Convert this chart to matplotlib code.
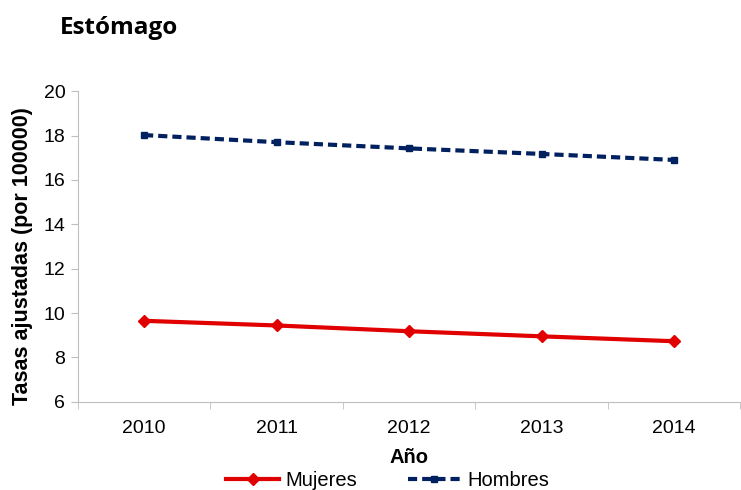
import numpy as np
import matplotlib.pyplot as plt

plt.rcParams['font.family'] = ['Liberation Sans', 'DejaVu Sans']

years = ['2010', '2011', '2012', '2013', '2014']
mujeres = [9.65, 9.44, 9.18, 8.95, 8.73]
hombres = [18.02, 17.70, 17.42, 17.17, 16.90]

x = np.arange(len(years))

fig = plt.figure(figsize=(7.41, 4.90), dpi=100)
ax = fig.add_axes([0.105, 0.180, 0.894, 0.634])

ax.plot(x, mujeres, color='#E00000', linewidth=3, marker='D', markersize=6,
        label='Mujeres')
ax.plot(x, hombres, color='#002060', linewidth=3, linestyle=(0, (2.2, 1.2)),
        marker='s', markersize=5, label='Hombres')

ax.set_xlim(-0.5, len(years) - 0.5)
ax.set_ylim(6, 20)
ax.set_yticks(range(6, 21, 2))
ax.set_xticks(x)
ax.set_xticklabels(years)
ax.set_xticks(np.arange(-0.5, len(years), 1), minor=True)
ax.tick_params(axis='x', which='major', length=0, pad=13, labelsize=14)
ax.tick_params(axis='x', which='minor', length=5, color='#BFBFBF')
ax.tick_params(axis='y', length=5, color='#BFBFBF', labelsize=14, pad=4)

for s in ['top', 'right']:
    ax.spines[s].set_visible(False)
for s in ['left', 'bottom']:
    ax.spines[s].set_color('#BFBFBF')

ax.set_xlabel('Año', fontsize=14.5, fontweight='bold', labelpad=8)
ax.set_ylabel('Tasas ajustadas (por 100000)', fontsize=15.5, fontweight='bold')
ax.yaxis.set_label_coords(-0.068, 0.47)

fig.text(0.081, 0.942, 'Estómago', fontsize=17.5, fontweight='bold',
         family=['Open Sans', 'DejaVu Sans'], va='center')

ax.legend(loc='upper center', bbox_to_anchor=(0.468, -0.165), ncol=2, frameon=False,
          fontsize=14.5, handlelength=2.6, columnspacing=2.5, handletextpad=0.35)

fig.savefig('out.png', dpi=100)
